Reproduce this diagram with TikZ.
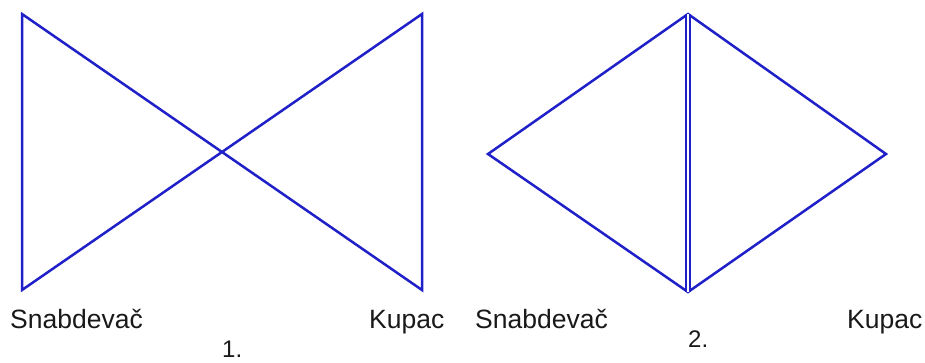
\documentclass[tikz,border=0pt]{standalone}
\usepackage{fontspec}
\setmainfont{Liberation Sans}
\definecolor{lineblue}{RGB}{32,32,200}
\definecolor{textgray}{RGB}{25,25,25}
\tikzset{
  edge/.style={draw=lineblue, line width=2.5pt, line join=miter},
  lbl/.style={anchor=base west, inner sep=0pt, font=\fontsize{26.5}{28}\selectfont, text=textgray},
  num/.style={anchor=base west, inner sep=0pt, font=\fontsize{24}{26}\selectfont, text=textgray}
}
\begin{document}
\begin{tikzpicture}[x=1pt,y=-1pt]
\useasboundingbox (0,0) rectangle (925,362);
% figure 1
\coordinate (a1) at (22,14);
\coordinate (a2) at (22,290);
\coordinate (a3) at (422,14);
\coordinate (a4) at (422,290);
\draw[edge] (a1) -- (a4) -- (a3) -- (a2) -- cycle;
% figure 2
\coordinate (l) at (488,154);
\coordinate (t) at (688,14);
\coordinate (b) at (688,292);
\coordinate (r) at (886,154);
\draw[edge] (t) -- (l) -- (b) -- (r) -- cycle;
\draw[edge, double=white, double distance=1.4pt, line width=2pt] (t) -- (b);
% labels
\node[lbl] (s1) at (10,328) {Snabdevač};
\node[lbl] (k1) at (369,328) {Kupac};
\node[lbl] (s2) at (475,328) {Snabdevač};
\node[lbl] (k2) at (847,328) {Kupac};
\node[num] (n1) at (222,357) {1.};
\node[num] (n2) at (688,347) {2.};
\end{tikzpicture}
\end{document}
